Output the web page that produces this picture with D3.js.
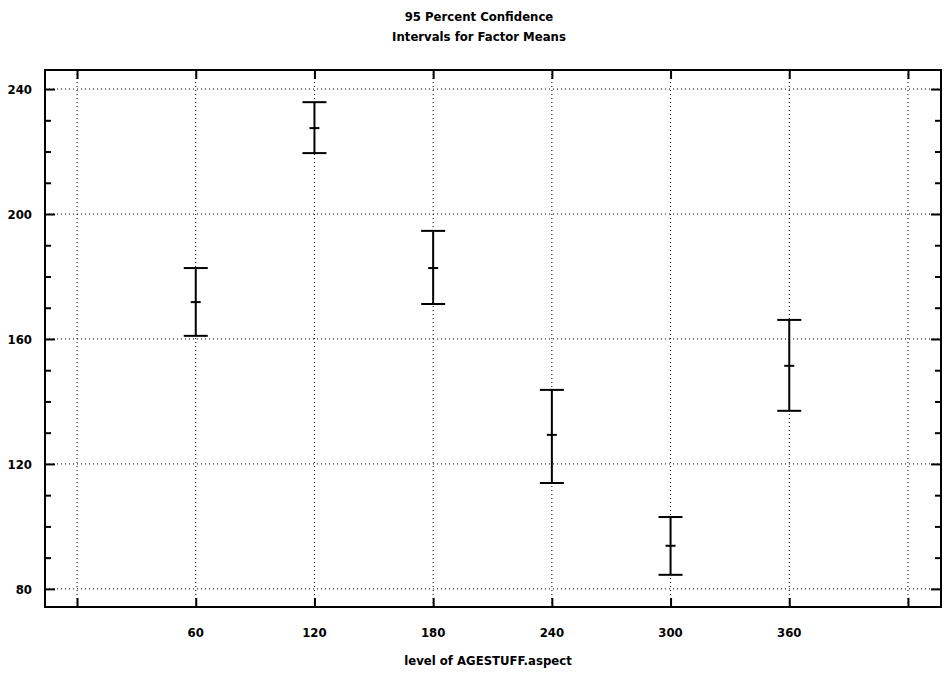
<!DOCTYPE html>
<html>
<head>
<meta charset="utf-8">
<script src="https://cdn.jsdelivr.net/npm/d3@7"></script>
<style>
  body { margin: 0; background: #fff; }
  text { font-family: "DejaVu Sans Condensed", "DejaVu Sans", sans-serif; font-weight: bold; fill: #000; }
</style>
</head>
<body>
<div id="chart"></div>
<script>
// factor levels and the 95% intervals
const levels = [60, 120, 180, 240, 300, 360];
const means  = [171.8, 227.5, 182.7, 129.3, 93.8, 151.4];
const lowers = [161.0, 219.5, 171.2, 113.9, 84.5, 137.0];
const uppers = [182.7, 235.8, 194.6, 143.7, 103.0, 166.1];

const xTicks = [0, 60, 120, 180, 240, 300, 360, 420];
const xTickLabels = ["", "60", "120", "180", "240", "300", "360", ""];
const yTicks = [80, 120, 160, 200, 240];
const yMinor = [90, 100, 110, 130, 140, 150, 170, 180, 190, 210, 220, 230];

const titleLines = ["95 Percent Confidence", "Intervals for Factor Means"];
const xTitle = "level of AGESTUFF.aspect";

const W = 949, H = 678;
const m = {top: 70, right: 8, bottom: 71, left: 45};

let svg = d3.select("#chart").append("svg")
	.attr("width", W)
	.attr("height", H);

let x = d3.scaleLinear().domain([-16.2, 436.7]).range([m.left, W - m.right]);
let y = d3.scaleLinear().domain([74.2, 246.1]).range([H - m.bottom, m.top]);

// dotted grid
svg.append("g").selectAll("line.gx")
	.data(xTicks).enter().append("line")
	.attr("x1", (d) => x(d)).attr("x2", (d) => x(d))
	.attr("y1", m.top).attr("y2", H - m.bottom)
	.attr("stroke", "#000").attr("stroke-width", 1)
	.attr("stroke-dasharray", "1,3");

svg.append("g").selectAll("line.gy")
	.data(yTicks).enter().append("line")
	.attr("x1", m.left).attr("x2", W - m.right)
	.attr("y1", (d) => y(d)).attr("y2", (d) => y(d))
	.attr("stroke", "#000").attr("stroke-width", 1)
	.attr("stroke-dasharray", "1,3");

// axes: ticks pointing inwards, no labels from the axis itself
let inner = (axis, size) => axis.tickSizeInner(-size).tickSizeOuter(0).tickFormat("");

svg.append("g").attr("transform", "translate(0," + (H - m.bottom) + ")")
	.call(inner(d3.axisBottom(x).tickValues(xTicks), 9));
svg.append("g").attr("transform", "translate(0," + m.top + ")")
	.call(inner(d3.axisTop(x).tickValues(xTicks), 9));
svg.append("g").attr("transform", "translate(" + m.left + ",0)")
	.call(inner(d3.axisLeft(y).tickValues(yTicks), 10));
svg.append("g").attr("transform", "translate(" + m.left + ",0)")
	.call(inner(d3.axisLeft(y).tickValues(yMinor), 6));
svg.append("g").attr("transform", "translate(" + (W - m.right) + ",0)")
	.call(inner(d3.axisRight(y).tickValues(yTicks), 10));
svg.append("g").attr("transform", "translate(" + (W - m.right) + ",0)")
	.call(inner(d3.axisRight(y).tickValues(yMinor), 6));

svg.selectAll(".domain").remove();
svg.selectAll(".tick line").attr("stroke", "#000").attr("stroke-width", 2);

// frame
svg.append("rect")
	.attr("x", m.left).attr("y", m.top)
	.attr("width", W - m.left - m.right).attr("height", H - m.top - m.bottom)
	.attr("fill", "none").attr("stroke", "#000").attr("stroke-width", 2);

// tick labels
svg.append("g").selectAll("text")
	.data(yTicks).enter().append("text")
	.attr("x", 32).attr("y", (d) => y(d) + 5)
	.attr("text-anchor", "end").attr("font-size", 13)
	.text((d) => d);

svg.append("g").selectAll("text")
	.data(xTicks).enter().append("text")
	.attr("x", (d) => x(d)).attr("y", 637)
	.attr("text-anchor", "middle").attr("font-size", 13)
	.text((d, i) => xTickLabels[i]);

// titles
svg.append("g").selectAll("text")
	.data(titleLines).enter().append("text")
	.attr("x", 479).attr("y", (d, i) => 21 + i * 20)
	.attr("text-anchor", "middle").attr("font-size", 13)
	.text((d) => d);

svg.append("text")
	.attr("x", 488).attr("y", 665)
	.attr("text-anchor", "middle").attr("font-size", 13)
	.text(xTitle);

// interval bars
let bars = svg.append("g").selectAll("g.bar")
	.data(levels).enter().append("g")
	.attr("class", "bar")
	.attr("stroke", "#000").attr("stroke-width", 2);

bars.append("line")
	.attr("x1", (d) => x(d)).attr("x2", (d) => x(d))
	.attr("y1", (d, i) => y(uppers[i])).attr("y2", (d, i) => y(lowers[i]));
bars.append("line")
	.attr("x1", (d) => x(d) - 12).attr("x2", (d) => x(d) + 12)
	.attr("y1", (d, i) => y(uppers[i])).attr("y2", (d, i) => y(uppers[i]));
bars.append("line")
	.attr("x1", (d) => x(d) - 12).attr("x2", (d) => x(d) + 12)
	.attr("y1", (d, i) => y(lowers[i])).attr("y2", (d, i) => y(lowers[i]));
bars.append("line")
	.attr("x1", (d) => x(d) - 5).attr("x2", (d) => x(d) + 5)
	.attr("y1", (d, i) => y(means[i])).attr("y2", (d, i) => y(means[i]));
</script>
</body>
</html>
